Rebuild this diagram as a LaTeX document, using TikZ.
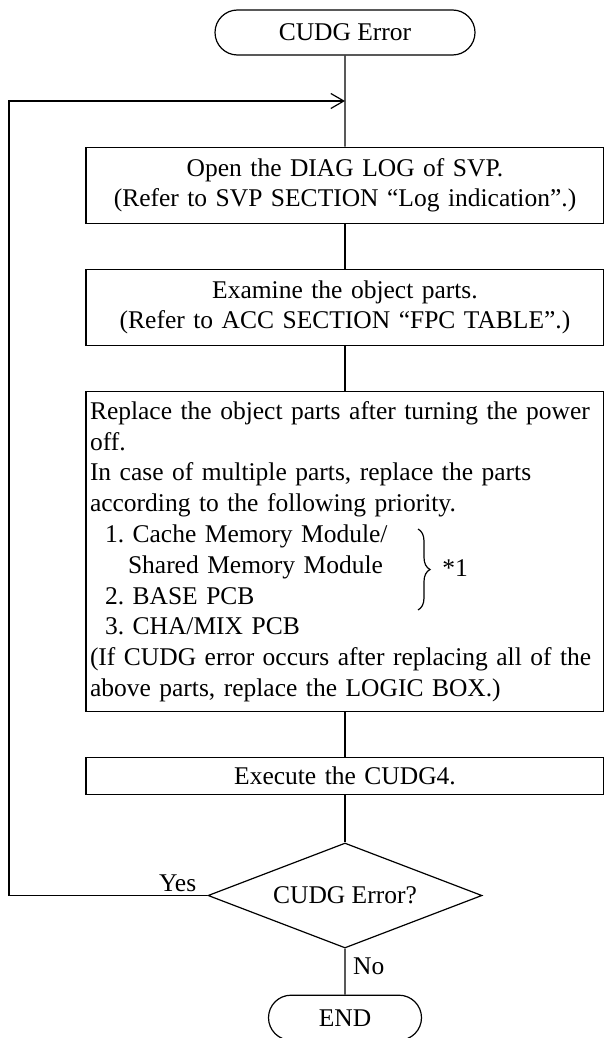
\documentclass[tikz,border=0pt]{standalone}
\usepackage{fontspec}
\setmainfont{Liberation Serif}
\usepackage{tikz}
\usetikzlibrary{shapes.geometric, shapes.misc, arrows.meta, positioning, decorations.pathreplacing}
\tikzstyle{terminal} = [rounded rectangle, draw=black, line width=1.2pt, minimum width=260pt, minimum height=45pt, inner sep=0pt]
\tikzstyle{procbox} = [rectangle, draw=black, line width=1.2pt, minimum width=518pt, text width=510pt, inner xsep=4pt, inner ysep=0pt, align=center]
\tikzstyle{decision} = [diamond, draw=black, line width=1.2pt, shape aspect=2.6, minimum width=274pt, minimum height=105pt, inner sep=0pt]
\tikzstyle{line} = [line width=1.2pt]
\tikzstyle{arrow} = [line width=1.2pt, -{Straight Barb[length=13pt, width=15pt]}]

\begin{document}
\begin{tikzpicture}[x=1pt, y=-1pt, every node/.style={font=\fontsize{25.5}{30.8}\selectfont\frenchspacing}]
  \useasboundingbox (0,0) rectangle (603,1038);
  \node[terminal] (start) at (345,32.5) {CUDG Error};
  \node[procbox, minimum height=76pt, below=91pt of start] (openlog) {Open the DIAG LOG of SVP.\\(Refer to SVP SECTION “Log indication”.)};
  \node[procbox, minimum height=76pt, below=45pt of openlog] (examine) {Examine the object parts.\\(Refer to ACC SECTION “FPC TABLE”.)};
  \node[procbox, align=left, minimum height=320pt, below=45pt of examine] (replace) {\mbox{Replace the object parts after turning the power}\\off.\\\mbox{In case of multiple parts, replace the parts}\\\mbox{according to the following priority.}\\\hspace*{15pt}1. Cache Memory Module/\\\hspace*{38pt}Shared Memory Module\\\hspace*{15pt}2. BASE PCB\\\hspace*{15pt}3. CHA/MIX PCB\\\mbox{(If CUDG error occurs after replacing all of the}\\\mbox{above parts, replace the LOGIC BOX.)}};
  \node[procbox, minimum height=37pt, below=45pt of replace] (runcudg) {Execute the CUDG4.};
  \node[decision, below=47pt of runcudg] (check) {CUDG Error?};
  \node[terminal, minimum width=153pt, below=46pt of check] (finish) {END};

  % priority note
  \node[inner sep=0pt] (note) at (455,568) {*1};
  \draw[line, decorate, decoration={brace, amplitude=12pt}] (418,529) -- (418,610);

  \node[inner sep=0pt, above left=4pt and 11pt of check.west] (yes) {Yes};
  \node[inner sep=0pt, below right=9pt and 8pt of check.south] (no) {No};

  \coordinate (looptop) at (9,101);
  \coordinate (join) at (345,101);

  \draw[line] (start) -- (openlog);
  \draw[line] (openlog) -- (examine);
  \draw[line] (examine) -- (replace);
  \draw[line] (replace) -- (runcudg);
  \draw[line] (runcudg) -- (check);
  \draw[line] (check) -- (finish);
  \draw[arrow] (check.west) -| (looptop) -- (join);
\end{tikzpicture}
\end{document}
